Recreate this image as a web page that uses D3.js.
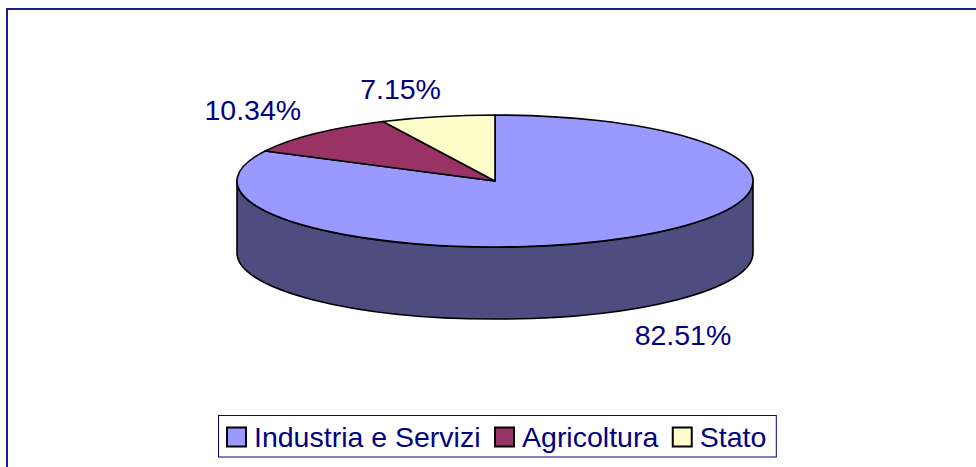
<!DOCTYPE html>
<html>
<head>
<meta charset="utf-8">
<script src="https://cdn.jsdelivr.net/npm/d3@7.9.0/dist/d3.min.js"></script>
<style>
  html, body { margin: 0; padding: 0; background: #fff; }
  svg { display: block; font-family: "Liberation Sans", Arial, sans-serif; }
</style>
</head>
<body>
<div id="chart"></div>
<script>
// Data
const categories = ["Industria e Servizi", "Agricoltura", "Stato"];
const shares = [82.51, 10.34, 7.15];
const labels = ["82.51%", "10.34%", "7.15%"];
const topColors = ["#9999FF", "#993366", "#FFFFCC"];
const sideColors = ["#4D4D80", "#4D1A33", "#808066"];

function createPie3D() {
    const width = 976, height = 467;
    const cx = 495, cy = 181;      // centre of top ellipse
    const rx = 258, ry = 66;       // ellipse radii
    const depth = 72;              // thickness of the pie

    const svg = d3.select("#chart")
        .append("svg")
        .attr("width", width)
        .attr("height", height);

    // outer frame (runs off right and bottom edge)
    svg.append("rect")
        .attr("x", 7)
        .attr("y", 9)
        .attr("width", width + 20)
        .attr("height", height + 20)
        .attr("fill", "none")
        .attr("stroke", "#1c1c8a")
        .attr("stroke-width", 2);

    const pie = d3.pie().sort(null).value(d => d)(shares);

    const pt = (a, dy = 0) => [cx + rx * Math.sin(a), cy - ry * Math.cos(a) + dy];

    // visible side walls (front half of the ellipse: angles PI/2 .. 3PI/2)
    pie.forEach((d, i) => {
        const b0 = Math.max(d.startAngle, Math.PI / 2);
        const b1 = Math.min(d.endAngle, 3 * Math.PI / 2);
        if (b1 <= b0) return;
        const p0 = pt(b0), p1 = pt(b1), q0 = pt(b0, depth), q1 = pt(b1, depth);
        const path = `M${p0} A${rx},${ry} 0 0 1 ${p1} L${q1} A${rx},${ry} 0 0 0 ${q0} Z`;
        svg.append("path")
            .attr("d", path)
            .attr("fill", sideColors[i])
            .attr("stroke", "#000")
            .attr("stroke-width", 1.6)
            .attr("stroke-linejoin", "round");
    });

    // top faces
    pie.forEach((d, i) => {
        const p0 = pt(d.startAngle), p1 = pt(d.endAngle);
        const large = (d.endAngle - d.startAngle) > Math.PI ? 1 : 0;
        const path = `M${cx},${cy} L${p0} A${rx},${ry} 0 ${large} 1 ${p1} Z`;
        svg.append("path")
            .attr("d", path)
            .attr("fill", topColors[i])
            .attr("stroke", "#000")
            .attr("stroke-width", 1.6)
            .attr("stroke-linejoin", "round");
    });

    // percentage labels just outside the edge of each slice
    const fontPx = 28.5;
    pie.forEach((d, i) => {
        const mid = (d.startAngle + d.endAngle) / 2;
        const s = Math.sin(mid), c = Math.cos(mid);
        const [ex, ey] = pt(mid, c < 0 ? depth : 0);
        const t = svg.append("text")
            .attr("text-anchor", "middle")
            .attr("dy", "0.35em")
            .attr("font-size", fontPx + "px")
            .attr("fill", "#000080")
            .text(labels[i]);
        const w = t.node().getComputedTextLength();
        t.attr("x", ex + s * w / 2 + Math.sign(s) * 28)
         .attr("y", ey - c * fontPx / 2 - Math.sign(c) * 14);
    });

    // legend
    const legend = svg.append("g");
    const legendBox = legend.append("rect")
        .attr("fill", "#fff")
        .attr("stroke", "#000080")
        .attr("stroke-width", 1);

    const boxX = 218;
    const swatch = 19, baseY = 447;
    let xPos = 227;
    categories.forEach((c, i) => {
        legend.append("rect")
            .attr("x", xPos)
            .attr("y", 427.5)
            .attr("width", swatch)
            .attr("height", swatch)
            .attr("fill", topColors[i])
            .attr("stroke", "#000")
            .attr("stroke-width", 2);
        const t = legend.append("text")
            .attr("x", xPos + swatch + 8)
            .attr("y", baseY)
            .attr("font-size", fontPx + "px")
            .attr("fill", "#000080")
            .text(c);
        xPos += swatch + 8 + t.node().getComputedTextLength() + 14.5;
    });

    legendBox
        .attr("x", boxX + 0.5)
        .attr("y", 415.5)
        .attr("width", xPos - 14.5 + 9.5 - boxX)
        .attr("height", 41.5);
}

createPie3D();
</script>
</body>
</html>
